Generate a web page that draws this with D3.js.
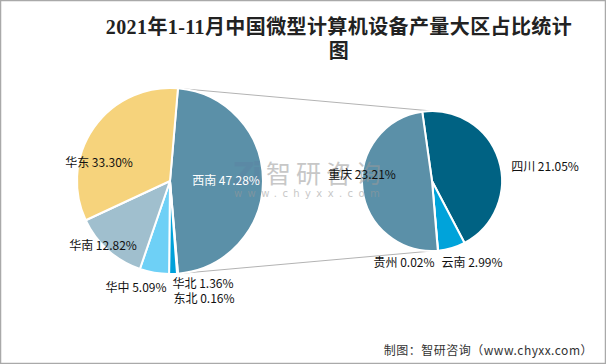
<!DOCTYPE html>
<html><head><meta charset="utf-8">
<script src="https://cdn.jsdelivr.net/npm/d3@7"></script>
<style>body{margin:0;background:#fff}svg{display:block}</style>
</head><body>
<svg id="c" width="606" height="364"></svg>
<script>
// ---- data ----
const titleLines = ["2021年1-11月中国微型计算机设备产量大区占比统计", "图"];
const mainCats = ["西南", "东北", "华北", "华中", "华南", "华东"];
const mainVals = [47.28, 0.16, 1.36, 5.09, 12.82, 33.30];
const subCats = ["四川", "云南", "贵州", "重庆"];
const subVals = [21.05, 2.99, 0.02, 23.21];
const source = "制图：智研咨询（www.chyxx.com）";

// ---- styles ----
const mainColors = {"西南":"#5b90a8","东北":"#1d6f8f","华北":"#00a1da","华中":"#6ed0f6","华南":"#a0bfce","华东":"#f6d37c"};
const subColors = {"四川":"#006283","云南":"#00a3da","贵州":"#2a7fa0","重庆":"#5b90a8"};
const FONT = "'Noto Sans CJK SC','Noto Sans',sans-serif";

const svg = d3.select("#c");
svg.append("rect").attr("x",0.5).attr("y",0.5).attr("width",605).attr("height",363)
  .attr("fill","#fff").attr("stroke","#a9a9a9").attr("stroke-width",1.5);

// title
const title = svg.append("text").attr("text-anchor","middle")
  .attr("font-family","'Liberation Serif','Noto Sans CJK SC',serif").attr("font-weight","bold")
  .attr("font-size",20).attr("letter-spacing",0.4).attr("fill","#222");
title.selectAll("tspan").data(titleLines).join("tspan")
  .attr("x",339).attr("y",(d,i)=>34+i*24).text(d=>d);

// main pie
const main = {cx:170, cy:181, r:93};
const mainShare = mainVals[0]/d3.sum(mainVals);
const mainStart = Math.PI/2 - mainShare*Math.PI;
const pieMain = d3.pie().sort(null).value(d=>d.v)
  .startAngle(mainStart).endAngle(mainStart + 2*Math.PI);
const mainData = pieMain(mainCats.map((c,i)=>({c, v:mainVals[i]})));
const arcMain = d3.arc().innerRadius(0).outerRadius(main.r);

// sub pie
const sub = {cx:432, cy:181, r:70};
const subStart = -0.14;
const pieSub = d3.pie().sort(null).value(d=>d.v)
  .startAngle(subStart).endAngle(subStart + 2*Math.PI);
const subData = pieSub(subCats.map((c,i)=>({c, v:subVals[i]})));
const arcSub = d3.arc().innerRadius(0).outerRadius(sub.r);

// connector lines
const wedge = mainData[0];
const pt = (cx,cy,r,a)=>[cx + r*Math.sin(a), cy - r*Math.cos(a)];
const p1 = pt(main.cx,main.cy,main.r,wedge.startAngle);
const p2 = pt(main.cx,main.cy,main.r,wedge.endAngle);
const q1 = pt(sub.cx,sub.cy,sub.r,0);
const q2 = pt(sub.cx,sub.cy,sub.r,Math.PI);
svg.append("g").attr("stroke","#b3b3b3").attr("stroke-width",1).selectAll("line")
  .data([[p1,q1],[p2,q2]]).join("line")
  .attr("x1",d=>d[0][0]).attr("y1",d=>d[0][1]).attr("x2",d=>d[1][0]).attr("y2",d=>d[1][1]);

svg.append("g").attr("transform",`translate(${main.cx},${main.cy})`)
  .selectAll("path").data(mainData).join("path")
  .attr("d",arcMain).attr("fill",d=>mainColors[d.data.c])
  .attr("stroke","#fff").attr("stroke-width",2).attr("stroke-linejoin","round");

svg.append("g").attr("transform",`translate(${sub.cx},${sub.cy})`)
  .selectAll("path").data(subData).join("path")
  .attr("d",arcSub).attr("fill",d=>subColors[d.data.c])
  .attr("stroke","#fff").attr("stroke-width",2).attr("stroke-linejoin","round");

// watermark
const wm = svg.append("g").attr("opacity",0.55);
wm.append("text").attr("x",233).attr("y",184).attr("font-family","'DejaVu Sans',sans-serif")
  .attr("font-weight","bold").attr("font-size",30).attr("fill","#5d7fa3").attr("opacity",0.6)
  .attr("letter-spacing",-3).text("Zi");
wm.append("text").attr("x",266).attr("y",183).attr("font-family",FONT)
  .attr("font-size",25).attr("letter-spacing",5).attr("fill","#9a9a9a").text("智研咨询");
wm.append("text").attr("x",234).attr("y",197).attr("font-family","'DejaVu Sans',sans-serif")
  .attr("font-size",10).attr("letter-spacing",5.4).attr("fill","#9a9a9a").text("www.chyxx.com");

// labels (offsets relative to pie centre)
const mainLabelPos = {"西南":[56,0,"#fff"],"华东":[-71,-18,"#111"],"华南":[-67,65,"#111"],
  "华中":[-34,107,"#111"],"华北":[33,103,"#111"],"东北":[34,118,"#111"]};
const subLabelPos = {"四川":[113,-14,"#111"],"重庆":[-70,-6,"#111"],
  "贵州":[-28,82,"#111"],"云南":[40,82,"#111"]};
const fmt = d3.format(".2f");
const lab = svg.append("g").attr("font-family",FONT).attr("font-size",12).attr("text-anchor","middle");
lab.selectAll("text.m").data(mainData).join("text").attr("class","m")
  .attr("x",d=>main.cx+mainLabelPos[d.data.c][0]).attr("y",d=>main.cy+mainLabelPos[d.data.c][1]+4)
  .attr("fill",d=>mainLabelPos[d.data.c][2]).text(d=>`${d.data.c} ${fmt(d.data.v)}%`);
lab.selectAll("text.s").data(subData).join("text").attr("class","s")
  .attr("x",d=>sub.cx+subLabelPos[d.data.c][0]).attr("y",d=>sub.cy+subLabelPos[d.data.c][1]+4)
  .attr("fill",d=>subLabelPos[d.data.c][2]).text(d=>`${d.data.c} ${fmt(d.data.v)}%`);

// source
svg.append("text").attr("x",593).attr("y",355).attr("text-anchor","end")
  .attr("font-family",FONT).attr("font-size",12).attr("letter-spacing",0.5).attr("fill","#333").text(source);
</script>
</body></html>
